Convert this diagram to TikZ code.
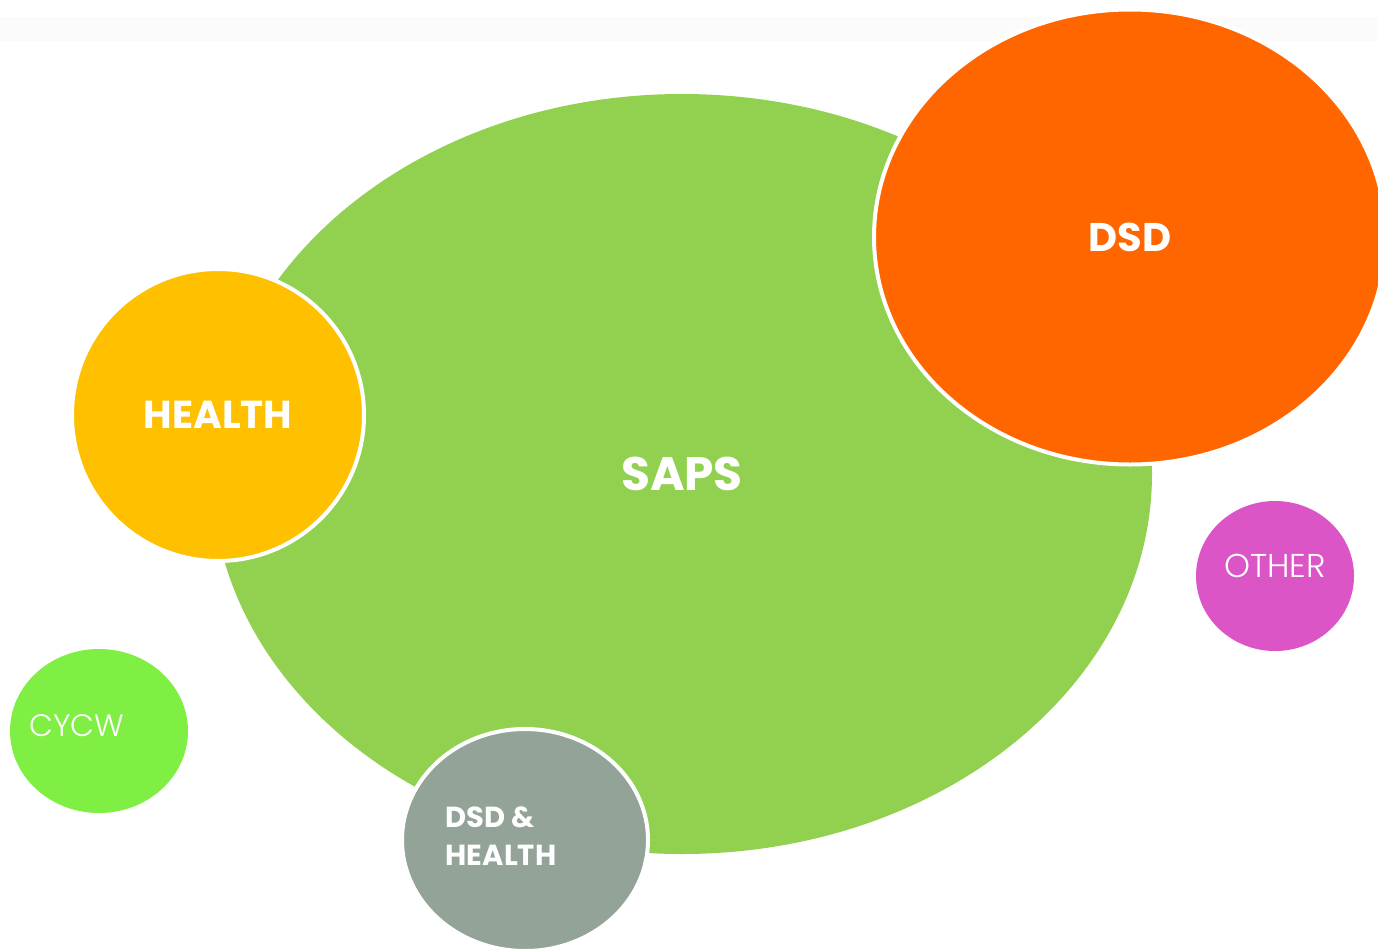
\documentclass[tikz,border=0pt]{standalone}
\usepackage{fontspec}
\setmainfont{Poppins}
\newfontfamily\lightfont{Poppins Light}
\usetikzlibrary{shapes.geometric}

\definecolor{sapsgreen}{HTML}{92D050}
\definecolor{dsdorange}{HTML}{FF6600}
\definecolor{healthyellow}{HTML}{FFC000}
\definecolor{mixgray}{HTML}{93A397}
\definecolor{othermagenta}{HTML}{DB55C7}
\definecolor{cycwgreen}{HTML}{7FEF44}
\definecolor{stripgray}{HTML}{FBFBFB}

\begin{document}
\begin{tikzpicture}[x=1pt, y=-1pt,
    bubble/.style={ellipse, inner sep=0pt, text=white},
    rim/.style={draw=white, line width=4pt}]

      % Fundal
      \useasboundingbox (0,0) rectangle (1378,950);
      \fill [stripgray] (0,17) rectangle (1378,41);

      % Bula mare
      \node [bubble, fill=sapsgreen, minimum width=940pt, minimum height=760pt, font=\fontsize{47}{54}\selectfont\bfseries] (saps) at (682,474) {SAPS};

      % Bule cu margine
      \node [bubble, rim, fill=dsdorange, minimum width=512pt, minimum height=455pt, font=\fontsize{40}{46}\selectfont\bfseries] (dsd) at (1130,237) {DSD};
      \node [bubble, rim, fill=healthyellow, minimum width=292pt, minimum height=292pt, font=\fontsize{39}{46}\selectfont\bfseries] (health) at (218,415) {HEALTH};
      \node [bubble, rim, fill=mixgray, minimum width=246pt, minimum height=222pt,
        label={[text=white, align=left, shift={(-24,-4)}, font=\fontsize{29}{38}\selectfont\bfseries]center:{DSD \&\\HEALTH}}] (dsd_health) at (525,840) {};

      % Bule mici
      \node [bubble, fill=othermagenta, minimum width=158pt, minimum height=150pt,
        label={[text=white, shift={(0,-10)}, font=\fontsize{33}{38}\selectfont\lightfont]center:OTHER}] (other) at (1275,576) {};
      \node [bubble, fill=cycwgreen, minimum width=178pt, minimum height=164pt,
        label={[text=white, shift={(-22,-5)}, font=\fontsize{31}{36}\selectfont\lightfont]center:CYCW}] (cycw) at (99,731) {};

\end{tikzpicture}
\end{document}
